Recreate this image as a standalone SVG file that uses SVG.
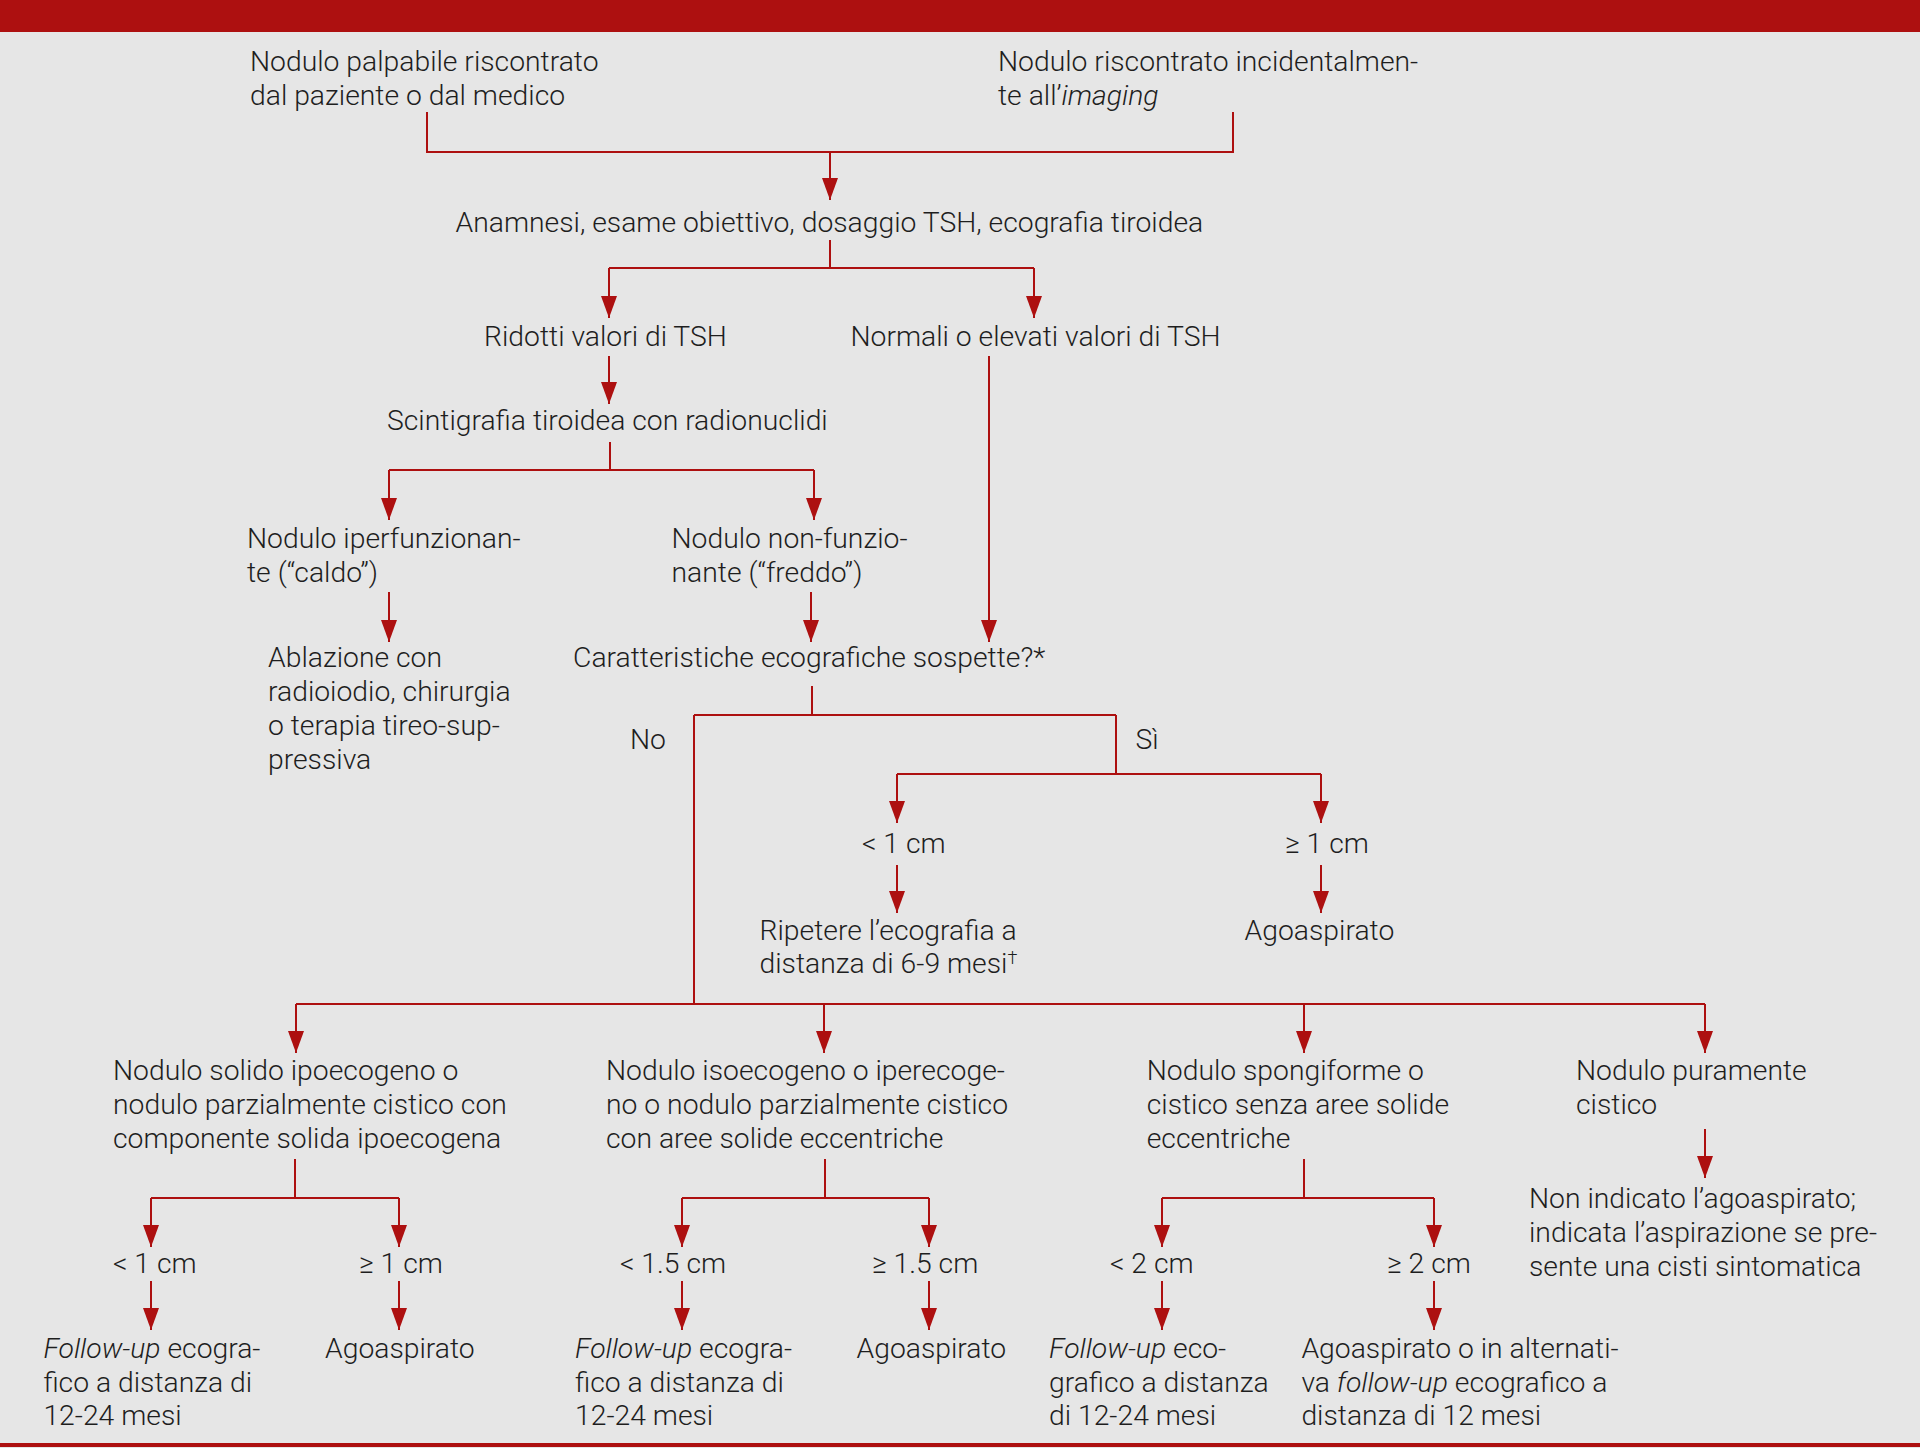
<svg xmlns="http://www.w3.org/2000/svg" width="1920" height="1448" viewBox="0 0 1920 1448">
<defs>
<style>
text{font-family:Roboto,"Liberation Sans",sans-serif;font-weight:300;font-size:28.3px;fill:#1e1e1e}
.it{font-style:italic}
.sup{font-size:18px}
.c path{fill:none;stroke:#ad1010;stroke-width:2}
.c path.a{marker-end:url(#ah)}
</style>
<marker id="ah" markerUnits="userSpaceOnUse" markerWidth="22" markerHeight="16" refX="22" refY="8" orient="auto" viewBox="0 0 22 16">
<path d="M0,0 L22,8 L0,16 z" fill="#ad1010"/>
</marker>
</defs>
<rect width="1920" height="1448" fill="#e6e6e6"/>
<rect width="1920" height="32" fill="#ad1010"/>
<rect y="1443" width="1920" height="4" fill="#ad1010"/>

<g class="c" id="connectors">
<path d="M427,112 V152 H1233 V112"/>
<path class="a" d="M830,152 V200"/>
<path d="M830,240 V268"/>
<path d="M609,268 H1034"/>
<path class="a" d="M609,268 V318"/>
<path class="a" d="M1034,268 V318"/>
<path class="a" d="M609,356 V404"/>
<path d="M610,442 V470"/>
<path d="M389,470 H814"/>
<path class="a" d="M389,470 V520"/>
<path class="a" d="M814,470 V520"/>
<path class="a" d="M389,592 V642"/>
<path class="a" d="M811,592 V642"/>
<path class="a" d="M989,356 V642"/>
<path d="M812,686 V715"/>
<path d="M694,715 H1116"/>
<path d="M694,715 V1004"/>
<path d="M1116,715 V774"/>
<path d="M897,774 H1321"/>
<path class="a" d="M897,774 V823"/>
<path class="a" d="M1321,774 V823"/>
<path class="a" d="M897,865 V913"/>
<path class="a" d="M1321,865 V913"/>
<path d="M296,1004 H1705"/>
<path class="a" d="M296,1004 V1053"/>
<path class="a" d="M824,1004 V1053"/>
<path class="a" d="M1304,1004 V1053"/>
<path class="a" d="M1705,1004 V1053"/>
<path d="M295,1159 V1198"/>
<path d="M151,1198 H399"/>
<path class="a" d="M151,1198 V1247"/>
<path class="a" d="M399,1198 V1247"/>
<path class="a" d="M151,1281 V1330"/>
<path class="a" d="M399,1281 V1330"/>
<path d="M825,1159 V1198"/>
<path d="M682,1198 H929"/>
<path class="a" d="M682,1198 V1247"/>
<path class="a" d="M929,1198 V1247"/>
<path class="a" d="M682,1281 V1330"/>
<path class="a" d="M929,1281 V1330"/>
<path d="M1304,1159 V1198"/>
<path d="M1162,1198 H1434"/>
<path class="a" d="M1162,1198 V1247"/>
<path class="a" d="M1434,1198 V1247"/>
<path class="a" d="M1162,1281 V1330"/>
<path class="a" d="M1434,1281 V1330"/>
<path class="a" d="M1705,1129 V1178"/>
</g>

<g id="n-palpabile"><text x="250" y="71">Nodulo palpabile riscontrato</text><text x="250" y="104.5">dal paziente o dal medico</text></g>
<g id="n-incidentale"><text x="998" y="71">Nodulo riscontrato incidentalmen-</text><text x="998" y="104.5">te all’<tspan class="it">imaging</tspan></text></g>
<g id="n-anamnesi"><text x="455.5" y="232">Anamnesi, esame obiettivo, dosaggio TSH, ecografia tiroidea</text></g>
<g id="n-ridotti"><text x="484" y="346">Ridotti valori di TSH</text></g>
<g id="n-normali"><text x="850.5" y="346">Normali o elevati valori di TSH</text></g>
<g id="n-scinti"><text x="387" y="430">Scintigrafia tiroidea con radionuclidi</text></g>
<g id="n-caldo"><text x="247" y="548">Nodulo iperfunzionan-</text><text x="247" y="581.5">te (“caldo”)</text></g>
<g id="n-freddo"><text x="671.5" y="548">Nodulo non-funzio-</text><text x="671.5" y="581.5">nante (“freddo”)</text></g>
<g id="n-ablazione"><text x="268" y="667">Ablazione con</text><text x="268" y="701">radioiodio, chirurgia</text><text x="268" y="735">o terapia tireo-sup-</text><text x="268" y="769">pressiva</text></g>
<g id="n-caratt"><text x="573" y="667">Caratteristiche ecografiche sospette?*</text></g>
<g id="l-no"><text x="630" y="749">No</text></g>
<g id="l-si"><text x="1135.5" y="749">Sì</text></g>
<g id="n-s-lt1"><text x="862" y="853">&lt; 1 cm</text></g>
<g id="n-s-ge1"><text x="1285" y="853">≥ 1 cm</text></g>
<g id="n-ripetere"><text x="759.5" y="940">Ripetere l’ecografia a</text><text x="759.5" y="973">distanza di 6-9 mesi<tspan class="sup" dy="-9">†</tspan></text></g>
<g id="n-s-ago"><text x="1244.6" y="940">Agoaspirato</text></g>

<g id="n-solido"><text x="113" y="1080">Nodulo solido ipoecogeno o</text><text x="113" y="1114">nodulo parzialmente cistico con</text><text x="113" y="1148">componente solida ipoecogena</text></g>
<g id="n-iso"><text x="606" y="1080">Nodulo isoecogeno o iperecoge-</text><text x="606" y="1114">no o nodulo parzialmente cistico</text><text x="606" y="1148">con aree solide eccentriche</text></g>
<g id="n-spongi"><text x="1146.7" y="1080">Nodulo spongiforme o</text><text x="1146.7" y="1114">cistico senza aree solide</text><text x="1146.7" y="1148">eccentriche</text></g>
<g id="n-puro"><text x="1576" y="1080">Nodulo puramente</text><text x="1576" y="1114">cistico</text></g>

<g id="n-a-lt1"><text x="113" y="1273">&lt; 1 cm</text></g>
<g id="n-a-ge1"><text x="359" y="1273">≥ 1 cm</text></g>
<g id="n-b-lt15"><text x="620" y="1273">&lt; 1.5 cm</text></g>
<g id="n-b-ge15"><text x="872" y="1273">≥ 1.5 cm</text></g>
<g id="n-c-lt2"><text x="1110" y="1273">&lt; 2 cm</text></g>
<g id="n-c-ge2"><text x="1387" y="1273">≥ 2 cm</text></g>

<g id="n-a-fu"><text x="43.4" y="1358"><tspan class="it">Follow-up</tspan> ecogra-</text><text x="43.4" y="1392">fico a distanza di</text><text x="43.4" y="1425">12-24 mesi</text></g>
<g id="n-a-ago"><text x="325" y="1358">Agoaspirato</text></g>
<g id="n-b-fu"><text x="575" y="1358"><tspan class="it">Follow-up</tspan> ecogra-</text><text x="575" y="1392">fico a distanza di</text><text x="575" y="1425">12-24 mesi</text></g>
<g id="n-b-ago"><text x="856.5" y="1358">Agoaspirato</text></g>
<g id="n-c-fu"><text x="1049" y="1358"><tspan class="it">Follow-up</tspan> eco-</text><text x="1049" y="1392">grafico a distanza</text><text x="1049" y="1425">di 12-24 mesi</text></g>
<g id="n-c-ago"><text x="1301.4" y="1358">Agoaspirato o in alternati-</text><text x="1301.4" y="1392">va <tspan class="it">follow-up</tspan> ecografico a</text><text x="1301.4" y="1425">distanza di 12 mesi</text></g>
<g id="n-d-non"><text x="1529" y="1208">Non indicato l’agoaspirato;</text><text x="1529" y="1242">indicata l’aspirazione se pre-</text><text x="1529" y="1276">sente una cisti sintomatica</text></g>
</svg>
